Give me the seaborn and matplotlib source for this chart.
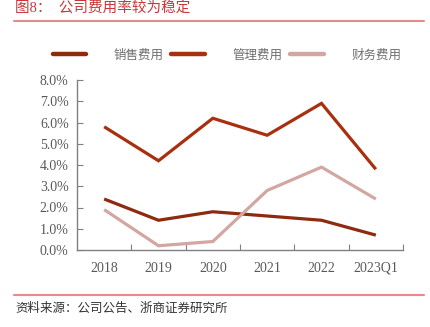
import matplotlib
matplotlib.use("Agg")
import matplotlib.pyplot as plt
import seaborn as sns
import pandas as pd
from matplotlib.lines import Line2D
from matplotlib.ticker import FixedLocator, FuncFormatter

categories = ["2018", "2019", "2020", "2021", "2022", "2023Q1"]
sales_exp = [2.4, 1.4, 1.8, 1.6, 1.4, 0.7]
admin_exp = [5.8, 4.2, 6.2, 5.4, 6.9, 3.8]
fin_exp = [1.9, 0.2, 0.4, 2.8, 3.9, 2.4]
series_names = ["销售费用", "管理费用", "财务费用"]
y_ticks = [0, 1, 2, 3, 4, 5, 6, 7, 8]

sns.set_theme(style="white")
plt.rcParams["font.family"] = ["Liberation Serif", "Noto Sans CJK SC", "DejaVu Sans"]

colors = ["#8E2A0E", "#A8300F", "#D3A7A1"]

df = pd.DataFrame({
    "cat": categories * 3,
    "x": list(range(len(categories))) * 3,
    "val": sales_exp + admin_exp + fin_exp,
    "series": [series_names[0]] * 6 + [series_names[1]] * 6 + [series_names[2]] * 6,
})

fig = plt.figure(figsize=(4.31, 3.27), dpi=100)
ax = fig.add_axes([77 / 431, 1 - 250 / 327, (403 - 77) / 431, 170 / 327])

sns.lineplot(data=df, x="x", y="val", hue="series", palette=colors,
             hue_order=series_names, linewidth=2.3, ax=ax, legend=False,
             estimator=None, sort=False)
for ln in ax.lines:
    ln.set_solid_capstyle("butt")
    ln.set_solid_joinstyle("miter")

ax.set_xlim(-0.5, 5.5)
ax.set_ylim(0, 8)
ax.set_xlabel("")
ax.set_ylabel("")

ax.set_xticks(range(len(categories)))
ax.set_xticklabels(categories, fontfamily="Liberation Serif", va="baseline")
ax.xaxis.set_minor_locator(FixedLocator([i + 0.5 for i in range(len(categories))]))
ax.tick_params(axis="x", which="major", length=0, pad=15.5, labelsize=10, labelcolor="#595959")
ax.tick_params(axis="x", which="minor", length=4, direction="in", color="#808080", width=0.8, bottom=True)

ax.set_yticks(y_ticks)
ax.yaxis.set_major_formatter(FuncFormatter(lambda v, p: f"{v:.1f}%"))
ax.tick_params(axis="y", which="major", length=4, direction="in", color="#808080",
               width=0.8, left=True, labelsize=10, labelcolor="#595959", pad=6)
for lab in ax.get_yticklabels():
    lab.set_fontfamily("Liberation Serif")

for s in ["top", "right"]:
    ax.spines[s].set_visible(False)
for s in ["left", "bottom"]:
    ax.spines[s].set_color("#808080")
    ax.spines[s].set_linewidth(1.0)

handles = [Line2D([0], [0], color=c, lw=3.2) for c in colors]
fig.legend(handles, series_names, loc="center", bbox_to_anchor=(227 / 431, 1 - 55 / 327),
           ncol=3, frameon=False, handlelength=2.7, handletextpad=2.2, columnspacing=0.6,
           prop={"size": 9, "family": ["Noto Sans CJK SC"], "weight": "light"}, labelcolor="#6E6E6E")

fig.text(15 / 431, 1 - 9 / 327, "图8：  公司费用率较为稳定", color="#C8373A", fontsize=10.5,
         va="center", ha="left")
fig.add_artist(Line2D([14 / 431, 424 / 431], [1 - 20.5 / 327] * 2, color="#E88A8A", lw=1.5))
fig.add_artist(Line2D([14 / 431, 424 / 431], [1 - 294.7 / 327] * 2, color="#E88A8A", lw=1.5))
fig.text(15 / 431, 1 - 309 / 327, "资料来源：公司公告、浙商证券研究所", color="#333333", fontsize=9,
         va="center", ha="left")

fig.savefig("out.png", dpi=100)
